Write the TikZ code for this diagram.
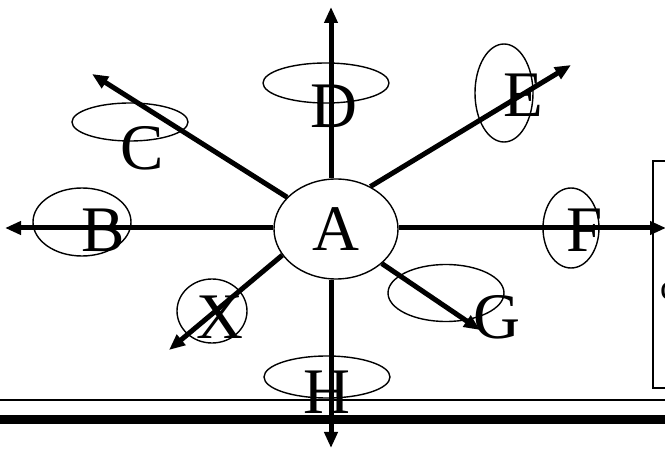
\documentclass[tikz,border=0pt]{standalone}
\usepackage{fontspec}
\setmainfont{Liberation Serif}
\usetikzlibrary{arrows.meta,shapes.geometric}

\begin{document}
\begin{tikzpicture}[x=1pt,y=-1pt,
  ring/.style={draw,ellipse,line width=1.4pt,inner sep=0pt},
  spoke/.style={line width=5pt,-{Triangle[length=16pt,width=13pt]}},
  letter/.style={inner sep=0pt,font=\fontsize{65}{70}\selectfont}]
  \useasboundingbox (0,0) rectangle (665,449);
  % ground lines
  \draw[line width=2pt] (0,400) -- (665,400);
  \draw[line width=9pt] (0,419.5) -- (665,419.5);
  % side box, runs off the page edge
  \draw[line width=1.4pt] (653,161) rectangle (700,388);
  \node[anchor=base west,inner sep=0pt,font=\fontsize{36}{40}\selectfont] (boxtext) at (660,300) {c};
  % satellite rings and their letters
  \foreach \n/\x/\y/\w/\h in {B/82/222/98/68, C/130/122/116/38, D/326/83/126/40, E/504/93/58/98,
                              F/571/228/56/80, G/446/293/116/57, X/212/311/70/64, H/327/377/126/42}{
    \node[ring,minimum width=\w pt,minimum height=\h pt] (ring\n) at (\x,\y) {}; }
  \foreach \n/\x/\y in {B/103/230, C/142/148, D/334/106, E/523/95, F/585/230, G/497/317, X/220/317, H/327/392}{
    \node[letter] (\n) at (\x,\y) {\n}; }
  \node[ring,letter,minimum width=124pt,minimum height=100pt] (A) at (336,229) {A};
  % arrow ends
  \coordinate (tipN) at (331,7);
  \coordinate (tipS) at (331,448);
  \coordinate (tipW) at (5,228);
  \coordinate (tipE) at (666,228);
  \coordinate (tipNW) at (92,74);
  \coordinate (tipNE) at (571,65);
  \coordinate (tipSE) at (480,330);
  \coordinate (tipSW) at (169,350);
  \draw[spoke] (A.north -| tipN) -- (tipN);
  \draw[spoke] (A.south -| tipS) -- (tipS);
  \draw[spoke] (A.west |- tipW) -- (tipW);
  \draw[spoke] (A.east |- tipE) -- (tipE);
  \draw[spoke] (A.147) -- (tipNW);
  \draw[spoke] (A.51) -- (tipNE);
  \draw[spoke] (A.-37) -- (tipSE);
  \draw[spoke] (A.206) -- (tipSW);
\end{tikzpicture}
\end{document}
